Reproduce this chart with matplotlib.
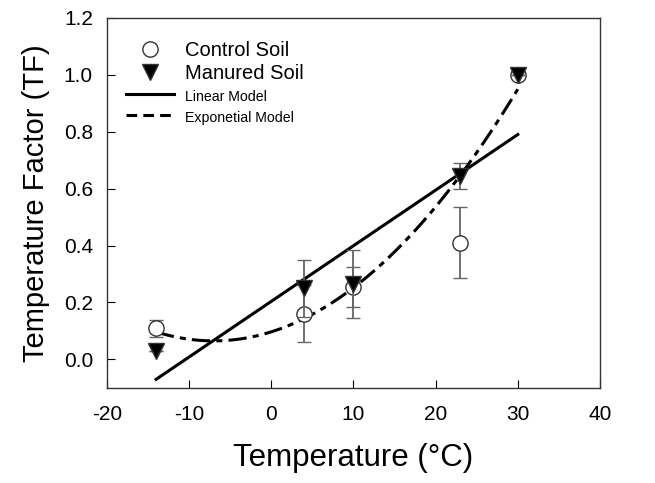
import matplotlib.pyplot as plt
from matplotlib.lines import Line2D
import numpy as np

plt.rcParams['font.family'] = ['Liberation Sans', 'DejaVu Sans']
plt.rcParams['axes.unicode_minus'] = False

# measured data
temps = [-14, 4, 10, 23, 30]
control_tf = [0.11, 0.16, 0.255, 0.41, 1.0]
control_err = [0.03, 0.10, 0.07, 0.125, 0.0]
manured_tf = [0.03, 0.25, 0.265, 0.645, 1.0]
manured_err = [0.0, 0.10, 0.12, 0.045, 0.0]

# fitted models
lin_coef = [0.01955, 0.2036]          # slope, intercept
exp_coef = [0.000646, -7.0, 0.065]    # a, T0, min
model_range = [-14, 30]

fig = plt.figure(figsize=(6.55, 4.83), dpi=100)
ax = fig.add_axes([0.163, 0.197, 0.753, 0.766])

t = np.linspace(model_range[0], model_range[1], 200)
lin = lin_coef[0] * t + lin_coef[1]
expo = exp_coef[0] * (t - exp_coef[1]) ** 2 + exp_coef[2]

ax.plot(t, lin, color='black', lw=2.2, zorder=2)
ax.plot(t, expo, color='black', lw=2.2, dashes=(6, 2, 2, 2), zorder=2)

ax.errorbar(temps, control_tf, yerr=control_err, fmt='o', mfc='white', mec='#333333',
            ms=11, mew=1, ecolor='#666666', elinewidth=1.3, capsize=5, capthick=1.3, zorder=3)
ax.errorbar(temps, manured_tf, yerr=manured_err, fmt='v', mfc='black', mec='#333333',
            ms=11, mew=1, ecolor='#666666', elinewidth=1.3, capsize=5, capthick=1.3, zorder=4)

ax.set_xlim(-20, 40)
ax.set_ylim(-0.1, 1.2)
ax.set_xticks(range(-20, 41, 10))
ax.set_yticks(np.arange(0, 1.21, 0.2))
ax.yaxis.set_major_formatter(plt.FormatStrFormatter('%.1f'))
ax.tick_params(direction='in', length=6, labelsize=15, top=False, right=False)
ax.tick_params(axis='x', pad=12)
ax.tick_params(axis='y', pad=10)
for s in ax.spines.values():
    s.set_color('#333333')
    s.set_linewidth(1)

ax.set_xlabel('Temperature (°C)', fontsize=22.5, labelpad=14)
ax.set_ylabel('Temperature Factor (TF)', fontsize=21, labelpad=10)

handles = [
    Line2D([], [], ls='none', marker='o', mfc='white', mec='#333333', ms=11, mew=1),
    Line2D([], [], ls='none', marker='v', mfc='black', mec='#333333', ms=11, mew=1),
    Line2D([], [], color='black', lw=2.2),
    Line2D([], [], color='black', lw=2.2, dashes=(3.5, 2)),
]
labels = ['Control Soil', 'Manured Soil', 'Linear Model', 'Exponetial Model']
leg = ax.legend(handles, labels, loc='upper left', bbox_to_anchor=(0.022, 0.96),
                frameon=False, fontsize=14.5, handlelength=2.4, labelspacing=0.2,
                handletextpad=0.55, borderaxespad=0)
for txt in leg.get_texts()[2:]:
    txt.set_fontsize(10.2)

fig.savefig('out.png', dpi=100)
